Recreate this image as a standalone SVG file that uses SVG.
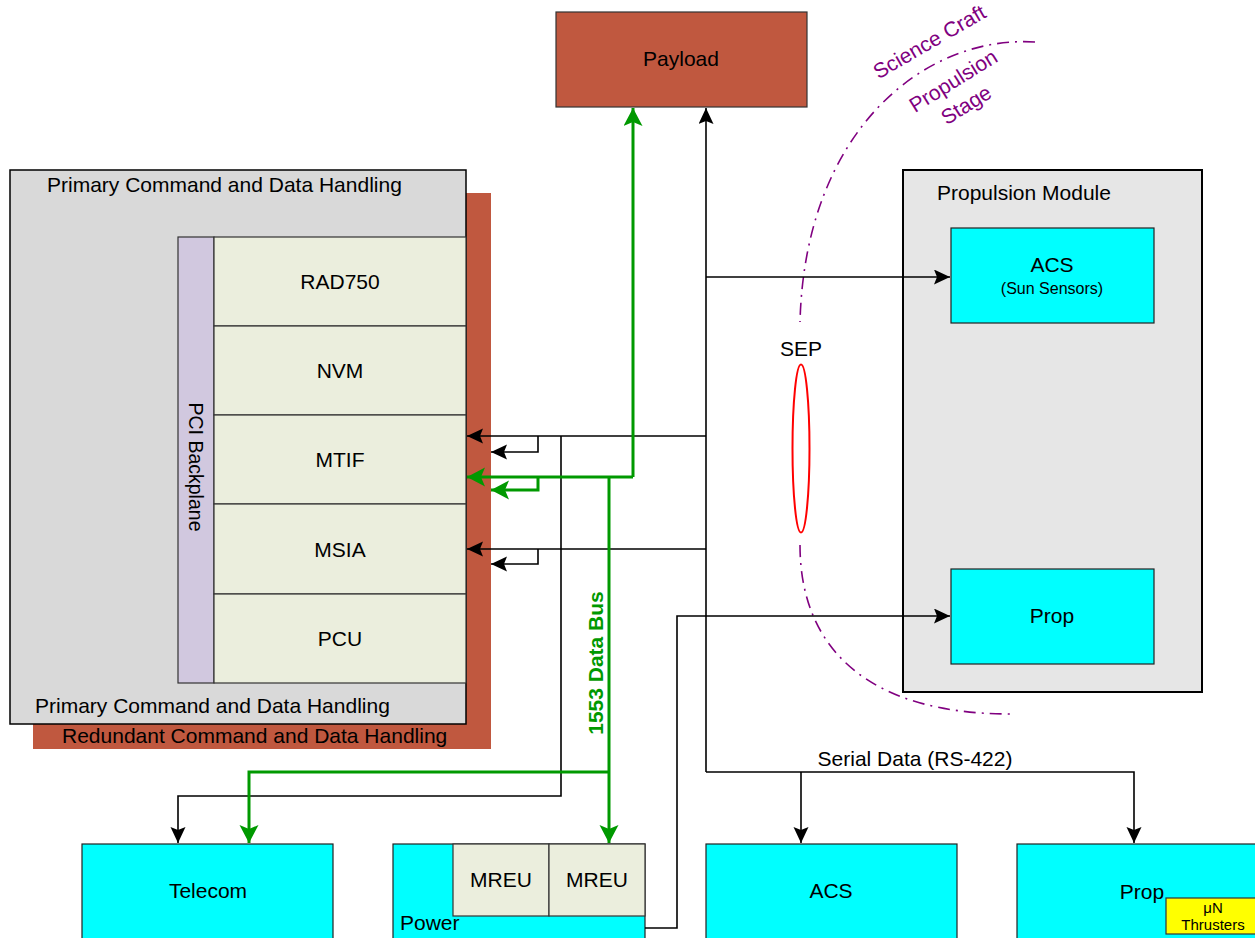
<svg xmlns="http://www.w3.org/2000/svg" width="1255" height="938" viewBox="0 0 1255 938">
<defs>
<style>
text{font-family:"Liberation Sans",Arial,sans-serif;font-size:21px;fill:#000}
.c{text-anchor:middle}
.red{fill:#C0583F}
.box{stroke:#000;stroke-width:1.5}
.cyan{fill:#00FFFF;stroke:#222;stroke-width:1.2}
.card{fill:#EBEEDD;stroke:#333;stroke-width:1.2}
.bk{fill:none;stroke:#000;stroke-width:1.6}
.gr{fill:none;stroke:#009900;stroke-width:3}
.arc{fill:none;stroke:#800080;stroke-width:1.6;stroke-dasharray:12,6,2,6}
.pt{fill:#800080;text-anchor:middle}
</style>
<marker id="ab" markerUnits="userSpaceOnUse" markerWidth="18" markerHeight="16" refX="16" refY="7.5" orient="auto">
<path d="M0,0 L16,7.5 L0,15 L3,7.5 z" fill="#000"/>
</marker>
<marker id="ag" markerUnits="userSpaceOnUse" markerWidth="20" markerHeight="20" refX="18" refY="9.5" orient="auto">
<path d="M0,0 L18,9.5 L0,19 L4,9.5 z" fill="#009900"/>
</marker>
</defs>

<g id="payload">
<rect x="556" y="12" width="251" height="95" class="red" stroke="#333" stroke-width="1.2"/>
<text x="681" y="66" class="c">Payload</text>
</g>

<g id="redundant-cdh">
<rect x="33" y="193" width="458" height="556" class="red"/>
<text x="62" y="743">Redundant Command and Data Handling</text>
</g>

<g id="primary-cdh">
<rect x="10" y="170" width="456" height="554" fill="#D9D9D9" class="box"/>
<text x="47" y="192">Primary Command and Data Handling</text>
<text x="35" y="713">Primary Command and Data Handling</text>
</g>

<g id="pci-backplane">
<rect x="178" y="237" width="36" height="446" fill="#D1C8DF" stroke="#333" stroke-width="1.2"/>
<text transform="translate(189,467) rotate(90)" class="c" style="font-size:19.5px">PCI Backplane</text>
</g>

<g id="rad750"><rect x="214" y="237" width="252" height="89" class="card"/><text x="340" y="289" class="c">RAD750</text></g>
<g id="nvm"><rect x="214" y="326" width="252" height="89" class="card"/><text x="340" y="378" class="c">NVM</text></g>
<g id="mtif"><rect x="214" y="415" width="252" height="89" class="card"/><text x="340" y="467" class="c">MTIF</text></g>
<g id="msia"><rect x="214" y="504" width="252" height="90" class="card"/><text x="340" y="557" class="c">MSIA</text></g>
<g id="pcu"><rect x="214" y="594" width="252" height="89" class="card"/><text x="340" y="646" class="c">PCU</text></g>

<g id="propulsion-module">
<rect x="903" y="170" width="299" height="522" fill="#E6E6E6" stroke="#000" stroke-width="2"/>
<text x="937" y="200">Propulsion Module</text>
</g>

<g id="pm-acs">
<rect x="951" y="228" width="203" height="95" class="cyan"/>
<text x="1052" y="272" class="c">ACS</text>
<text x="1052" y="294" class="c" style="font-size:16px">(Sun Sensors)</text>
</g>

<g id="pm-prop">
<rect x="951" y="569" width="203" height="95" class="cyan"/>
<text x="1052" y="623" class="c">Prop</text>
</g>

<g id="sep">
<ellipse cx="801" cy="448.5" rx="8.5" ry="84" fill="#fff" stroke="#FF0000" stroke-width="2"/>
<text x="801" y="356" class="c">SEP</text>
</g>

<g id="boundary">
<path d="M1035,42 C925,35 805,130 800,322" class="arc"/>
<path d="M800,545 C800,650 870,714 1010,714" class="arc"/>
<text transform="translate(933,48) rotate(-30)" class="pt">Science Craft</text>
<text transform="translate(957,87) rotate(-32)" class="pt">Propulsion</text>
<text transform="translate(970,111) rotate(-32)" class="pt">Stage</text>
</g>

<g id="telecom">
<rect x="82" y="844" width="251" height="100" class="cyan"/>
<text x="208" y="898" class="c">Telecom</text>
</g>

<g id="power">
<rect x="393" y="844" width="252" height="100" class="cyan"/>
<text x="400" y="930">Power</text>
</g>
<g id="mreu1"><rect x="453" y="844" width="96" height="72" class="card"/><text x="501" y="887" class="c">MREU</text></g>
<g id="mreu2"><rect x="549" y="844" width="96" height="72" class="card"/><text x="597" y="887" class="c">MREU</text></g>

<g id="acs">
<rect x="706" y="844" width="251" height="100" class="cyan"/>
<text x="831" y="898" class="c">ACS</text>
</g>

<g id="prop">
<rect x="1017" y="844" width="250" height="100" class="cyan"/>
<text x="1142" y="899" class="c">Prop</text>
</g>
<g id="un-thrusters">
<rect x="1166" y="898" width="95" height="36" fill="#FFFF00" stroke="#333" stroke-width="1.2"/>
<text x="1213" y="913" class="c" style="font-size:15px">μN</text>
<text x="1213" y="930" class="c" style="font-size:15px">Thrusters</text>
</g>

<g id="connectors">
<path d="M706,772 L706,108" class="bk" marker-end="url(#ab)"/>
<path d="M706,277 L950,277" class="bk" marker-end="url(#ab)"/>
<path d="M706,436 L467,436" class="bk" marker-end="url(#ab)"/>
<path d="M538,436 L538,452 L491,452" class="bk" marker-end="url(#ab)"/>
<path d="M561,436 L561,796 L178,796 L178,843" class="bk" marker-end="url(#ab)"/>
<path d="M706,549 L467,549" class="bk" marker-end="url(#ab)"/>
<path d="M538,549 L538,564 L491,564" class="bk" marker-end="url(#ab)"/>
<path d="M706,772 L1134,772 L1134,843" class="bk" marker-end="url(#ab)"/>
<path d="M801,772 L801,843" class="bk" marker-end="url(#ab)"/>
<path d="M645,928 L677,928 L677,616 L950,616" class="bk" marker-end="url(#ab)"/>
<text x="915" y="766" class="c">Serial Data (RS-422)</text>

<path d="M633,477 L633,108" class="gr" marker-end="url(#ag)"/>
<path d="M633,477 L467,477" class="gr" marker-end="url(#ag)"/>
<path d="M538,477 L538,490 L491,490" class="gr" marker-end="url(#ag)"/>
<path d="M609,477 L609,843" class="gr" marker-end="url(#ag)"/>
<path d="M609,772 L249,772 L249,843" class="gr" marker-end="url(#ag)"/>
<text transform="translate(603,663) rotate(-90)" class="c" style="fill:#009900;font-weight:bold">1553 Data Bus</text>
</g>
</svg>
